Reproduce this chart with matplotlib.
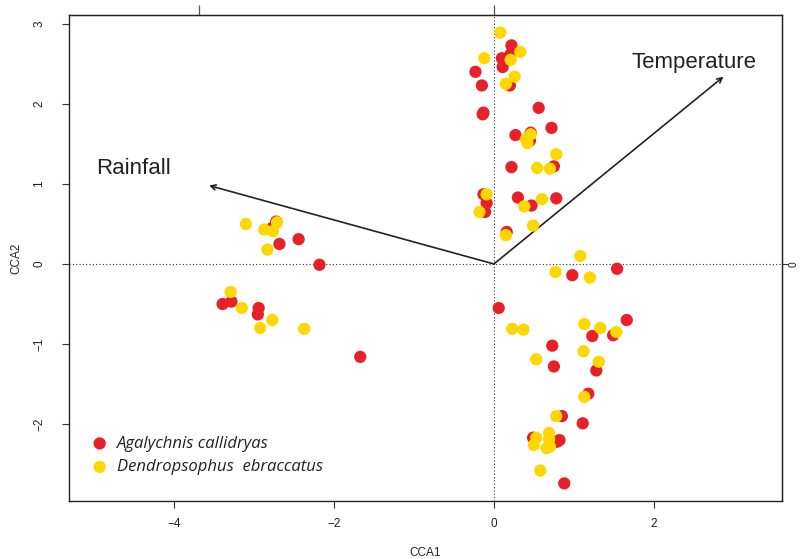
import matplotlib.pyplot as plt
from matplotlib.font_manager import FontProperties

plt.rcParams['font.family'] = ['Liberation Sans', 'DejaVu Sans']

# site scores, species 1
agaX = [0.22, 0.21, 0.10, 0.11, -0.23, -0.15, 0.20, 0.56, -0.13, -0.14, 0.72, 0.27, 0.46,
        0.45, 0.22, 0.75, -0.13, -0.09, -0.11, 0.30, 0.78, 0.47, 0.16, -2.72, -2.77, -2.68,
        -2.44, -2.18, -3.39, -3.28, -2.94, -2.95, -1.67, 0.98, 1.54, 0.06, 1.66, 1.23, 1.49,
        0.73, 0.75, 1.28, 1.18, 0.85, 1.11, 0.49, 0.79, 0.82, 0.88]
agaY = [2.73, 2.62, 2.57, 2.46, 2.40, 2.23, 2.23, 1.95, 1.89, 1.87, 1.70, 1.61, 1.64,
        1.54, 1.21, 1.22, 0.87, 0.76, 0.65, 0.83, 0.82, 0.73, 0.40, 0.53, 0.45, 0.25,
        0.31, -0.01, -0.50, -0.47, -0.55, -0.63, -1.16, -0.14, -0.06, -0.55, -0.70, -0.90, -0.89,
        -1.02, -1.28, -1.33, -1.62, -1.90, -1.99, -2.17, -2.22, -2.20, -2.74]

# site scores, species 2
denX = [0.08, 0.33, -0.12, 0.21, 0.26, 0.15, 0.46, 0.40, 0.42, 0.78, 0.54, 0.70, -0.09,
        -0.18, 0.60, 0.38, 0.49, 0.15, -3.10, -2.87, -2.76, -2.71, -2.83, -3.29, -3.15, -2.77,
        -2.92, -2.37, 1.08, 0.77, 1.20, 0.23, 0.37, 1.13, 1.33, 1.53, 1.12, 0.53, 1.31,
        1.13, 0.78, 0.53, 0.50, 0.69, 0.69, 0.66, 0.70, 0.58]
denY = [2.89, 2.65, 2.57, 2.55, 2.34, 2.25, 1.62, 1.56, 1.51, 1.37, 1.20, 1.19, 0.87,
        0.65, 0.81, 0.72, 0.48, 0.36, 0.50, 0.43, 0.41, 0.52, 0.18, -0.35, -0.55, -0.70,
        -0.80, -0.81, 0.10, -0.10, -0.17, -0.81, -0.82, -0.75, -0.80, -0.85, -1.09, -1.19, -1.22,
        -1.66, -1.90, -2.17, -2.26, -2.11, -2.19, -2.30, -2.28, -2.58]

# environmental vectors
envNames = ["Rainfall", "Temperature"]
envX = [-3.56, 2.87]
envY = [0.98, 2.34]
labelX = [-4.5, 2.5]
labelY = [1.19, 2.52]

RED = '#e8202a'
YELLOW = '#ffd700'

fig = plt.figure(figsize=(8.02, 5.59), dpi=100)
ax = fig.add_axes([0.086, 0.1038, 0.889, 0.8694])

ax.axhline(0, color='#333333', linestyle=(0, (1, 2)), linewidth=0.8, zorder=1)
ax.axvline(0, color='#333333', linestyle=(0, (1, 2)), linewidth=0.8, zorder=1)

ax.scatter(agaX, agaY, s=78, color=RED, edgecolors='none', zorder=3,
           label='Agalychnis callidryas')
ax.scatter(denX, denY, s=78, color=YELLOW, edgecolors='none', zorder=3,
           label='Dendropsophus  ebraccatus')

for i in range(len(envNames)):
    ax.annotate('', xy=(envX[i], envY[i]), xytext=(0, 0),
                arrowprops=dict(arrowstyle='->', color='#222222', lw=1.2,
                                mutation_scale=9, shrinkA=0, shrinkB=0), zorder=2)
    ax.text(labelX[i], labelY[i], envNames[i], fontsize=16, color='#222222',
            ha='center', va='center')

ax.set_xlim(-5.31, 3.6)
ax.set_ylim(-2.96, 3.11)
ax.set_xticks([-4, -2, 0, 2])
ax.set_xticklabels(['\u22124', '\u22122', '0', '2'])
ax.set_yticks([-2, -1, 0, 1, 2, 3])
ax.set_yticklabels(['\u22122', '\u22121', '0', '1', '2', '3'], rotation=90, va='center')
ax.tick_params(labelsize=8.5, length=5, width=0.8, color='#333333', labelcolor='#222222')
ax.tick_params(axis='x', pad=7.5)
ax.tick_params(axis='y', pad=12)

ax.set_xlabel('CCA1', fontsize=8.5, color='#222222', labelpad=12)
ax.set_ylabel('CCA2', fontsize=8.5, color='#222222', labelpad=8)

for sp in ax.spines.values():
    sp.set_linewidth(1.0)
    sp.set_color('#222222')

# biplot scale axes (labels mostly fall outside the figure)
top = ax.secondary_xaxis('top')
top.set_xticks([-3.69, 0])
top.set_xticklabels(['', ''])
top.tick_params(length=7, width=0.9, color='#555555')
right = ax.secondary_yaxis('right')
right.set_yticks([0])
right.set_yticklabels(['0'], rotation=90, va='center')
right.tick_params(length=4, width=0.8, labelsize=7.5, pad=0.5, color='#333333',
                  labelcolor='#222222')

legFont = FontProperties(family='Open Sans', style='italic', size=12)
leg = ax.legend(loc='lower left', bbox_to_anchor=(0.008, 0.022), frameon=False, prop=legFont,
                handlelength=1.2, handletextpad=0.42, labelspacing=0.45, markerscale=1.0)
for t in leg.get_texts():
    t.set_color('#222222')

fig.savefig('out.png', dpi=100)
